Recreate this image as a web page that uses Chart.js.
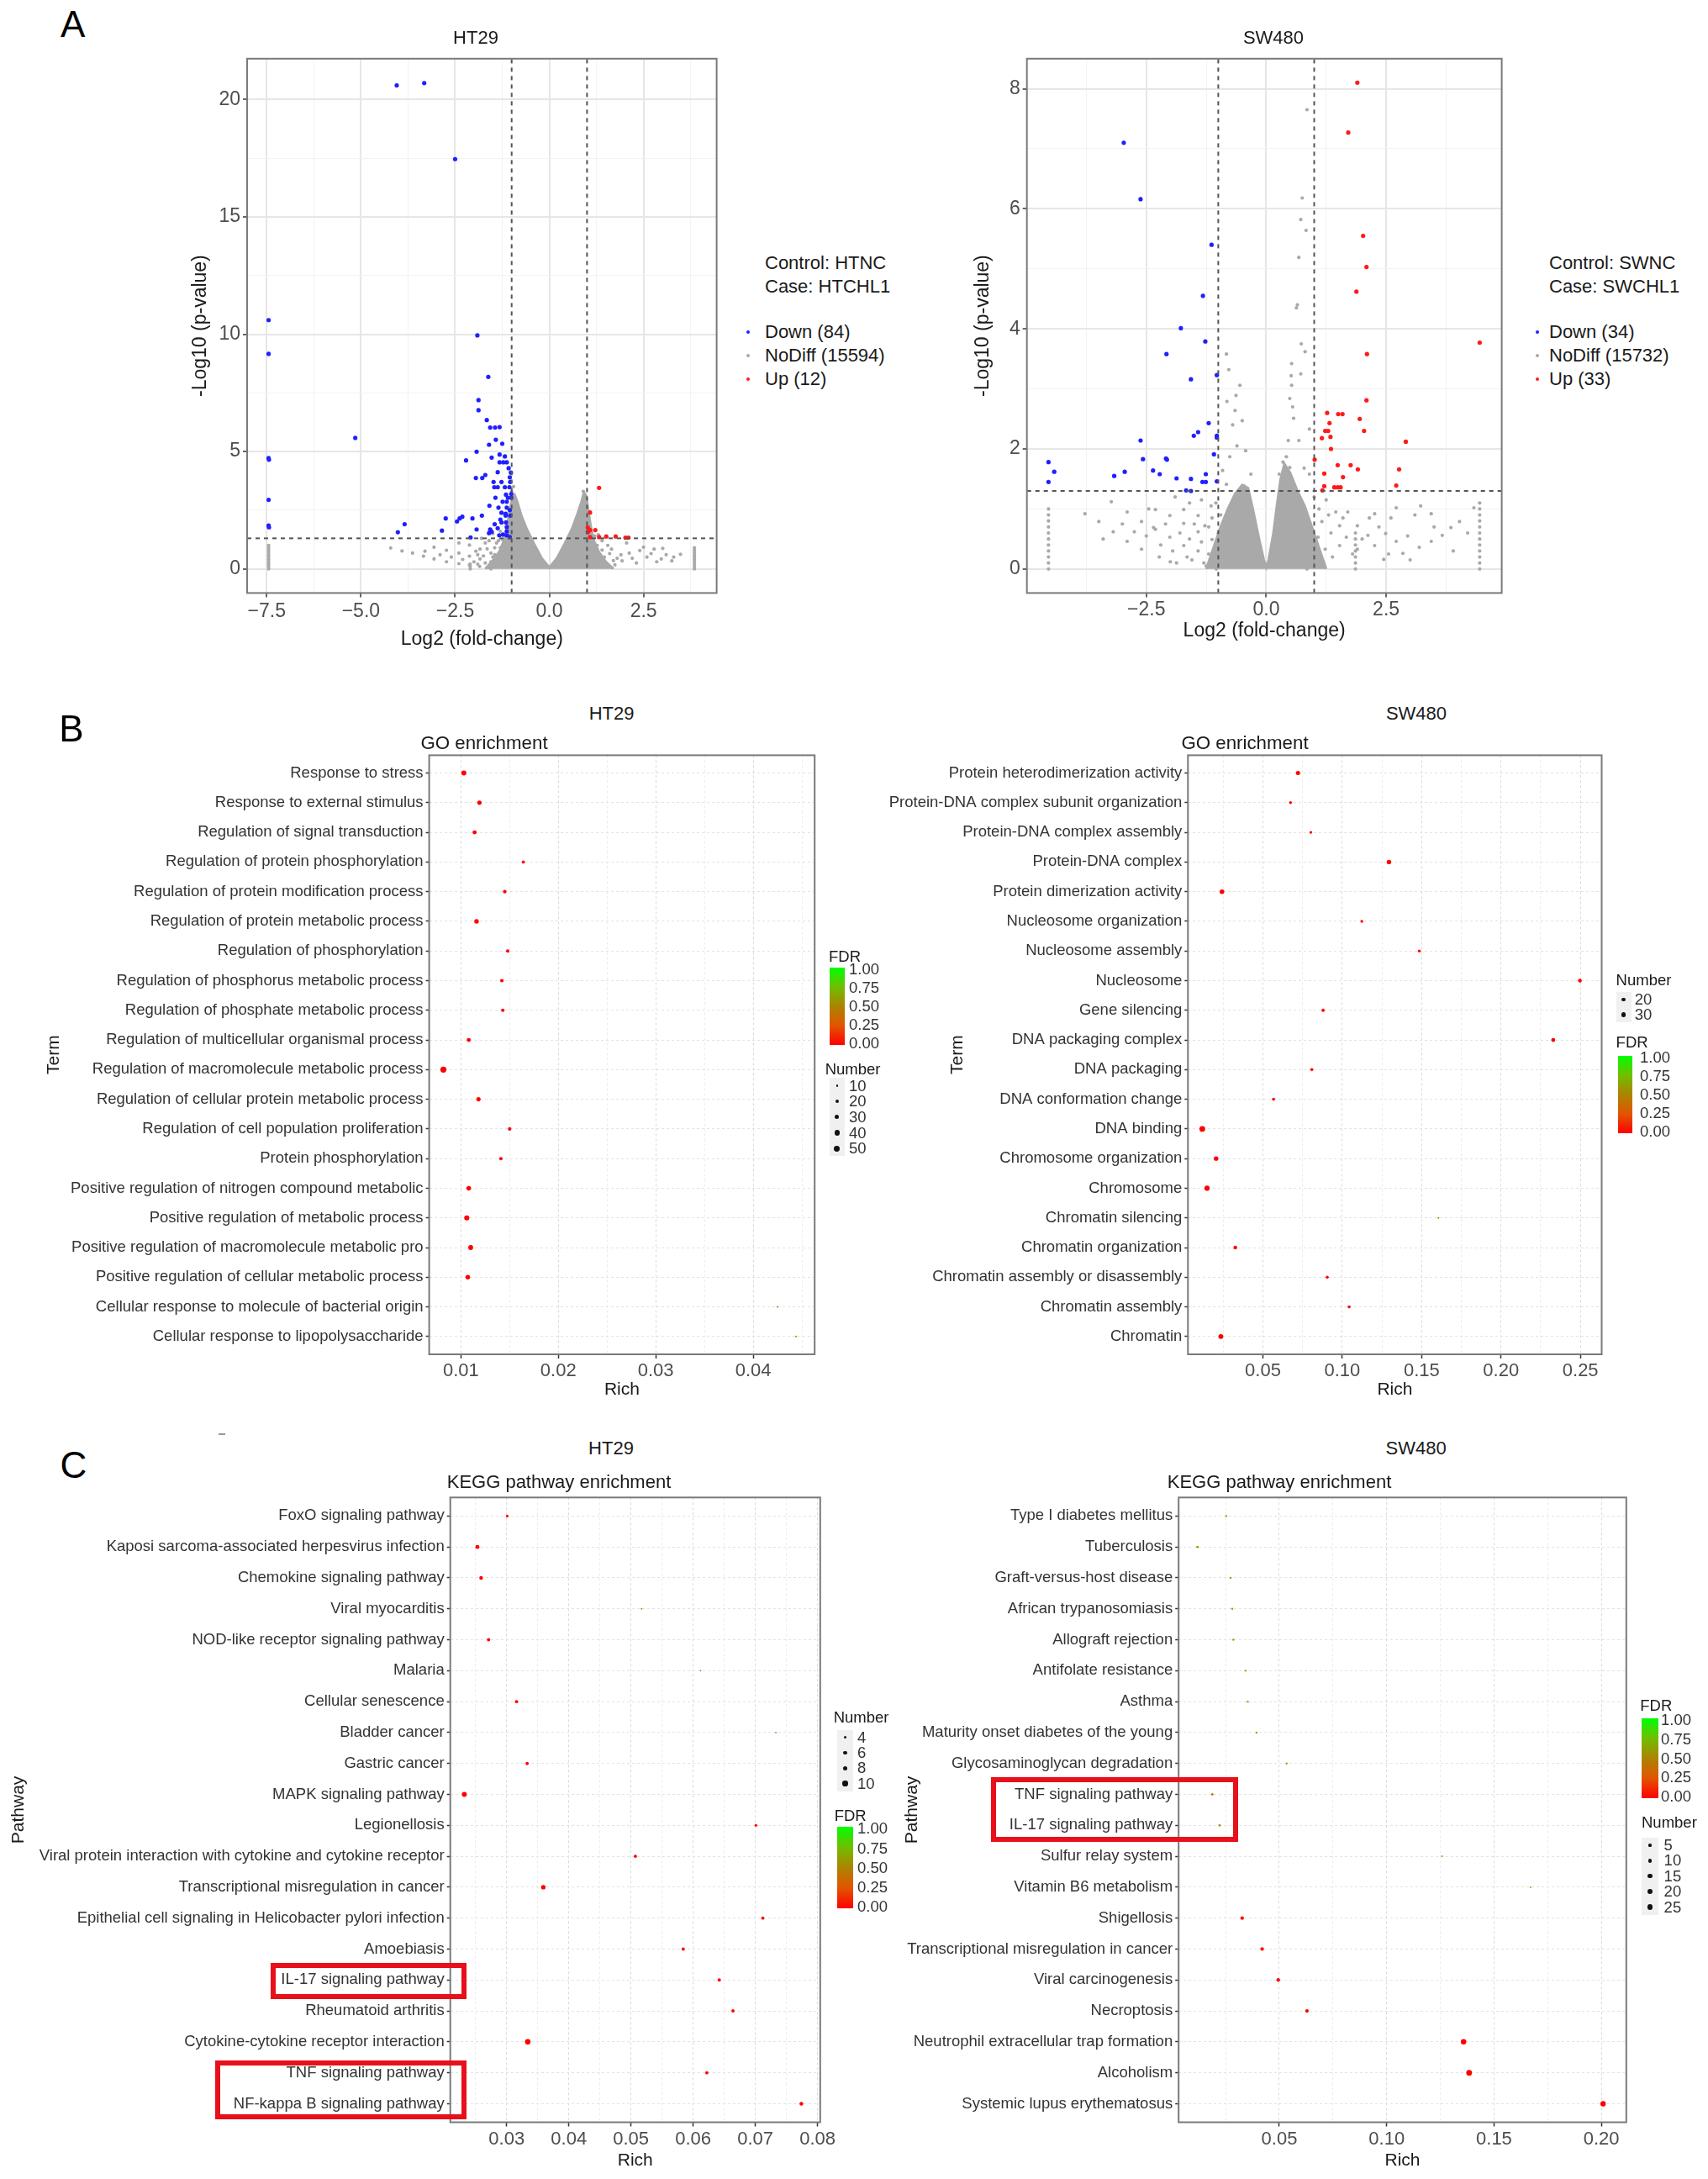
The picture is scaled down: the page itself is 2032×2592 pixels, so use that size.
<!DOCTYPE html>
<html>
<head>
<meta charset="utf-8">
<script src="https://cdn.jsdelivr.net/npm/chart.js@4.4.1/dist/chart.umd.min.js"></script>
<style>
  body { margin: 0; background: #fff; }
  #page { position: relative; width: 2032px; height: 2592px; background: #fff; overflow: hidden;
          font-family: "Liberation Sans", Arial, Helvetica, sans-serif; color: #1a1a1a; }
  canvas { position: absolute; }
  .t { position: absolute; white-space: nowrap; line-height: 1; }
</style>
</head>
<body>
<div id="page"></div>
<script>
// ---------- volcano data (log2 fold change, -log10 p) ----------
const fcCut = [-1, 1];
const pCut = 1.3;

const htXRange = [-8.02, 4.44];
const htYRange = [-1.03, 21.74];
const htXTicks = [-7.5, -5, -2.5, 0, 2.5];
const htXMinor = [-6.25, -3.75, -1.25, 1.25, 3.75];
const htYTicks = [0, 5, 10, 15, 20];
const htYMinor = [2.5, 7.5, 12.5, 17.5];

const htDown = [[-4.05,20.6],[-3.32,20.7],[-2.50,17.46],[-7.45,10.6],[-7.45,9.16],[-7.45,4.72],[-7.44,4.65],[-7.45,2.94],[-7.45,1.85],[-7.44,1.77],
  [-5.15,5.58],[-1.91,9.95],[-1.62,8.18],[-1.88,7.19],[-1.88,6.76],[-1.66,6.34],[-1.57,6.02],[-1.44,6.02],[-1.32,6.04],[-1.42,5.5],
  [-1.25,5.33],[-1.60,5.29],[-1.93,4.99],[-1.32,4.87],[-1.18,4.79],[-1.53,4.74],[-2.21,4.62],[-1.32,4.54],[-1.22,4.54],[-1.13,4.54],
  [-1.37,4.12],[-1.08,4.29],[-1.95,3.87],[-1.78,3.87],[-1.48,3.70],[-1.27,3.70],[-1.04,3.70],[-1.46,3.48],[-1.37,3.48],[-1.18,3.48],
  [-1.06,3.48],[-1.01,3.19],[-1.01,3.03],[-1.15,3.16],[-1.10,3.03],[-1.43,3.03],[-1.24,2.86],[-1.13,2.86],[-1.59,2.69],[-1.35,2.61],
  [-1.13,2.61],[-1.27,2.39],[-1.16,2.35],[-1.16,2.27],[-1.04,2.27],[-1.79,2.27],[-2.75,2.15],[-2.38,2.15],[-2.04,2.15],[-2.31,2.22],
  [-2.45,2.02],[-1.27,1.98],[-1.15,1.98],[-1.13,1.78],[-1.37,1.73],[-3.84,1.90],[-2.85,1.63],[-4.02,1.56],[-1.93,1.68],[-1.57,1.68],
  [-1.53,1.58],[-1.13,1.60],[-1.33,1.43],[-1.13,1.43],[-1.23,1.46],[-2.09,1.34],[-1.05,1.35],[-1.60,1.52],[-1.05,3.90],[-1.02,4.10],
  [-1.30,2.10],[-1.45,1.90],[-1.70,4.00],[-1.05,2.50]];
const htUp = [[1.32,3.45],[1.08,2.40],[1.02,1.76],[1.08,1.65],[1.22,1.65],[1.02,1.56],[1.08,1.35],[1.32,1.35],[1.51,1.38],[1.76,1.38],[2.02,1.33],[2.10,1.33]];
const htCore = [[-1.7,0],[-1.5,0.35],[-1.32,0.75],[-1.18,1.3],[-1.1,2.0],[-1.04,2.6],[-0.98,3.0],[-0.92,3.15],[-0.85,2.85],[-0.75,2.3],
  [-0.6,1.7],[-0.4,1.05],[-0.2,0.45],[0,0.05],[0.2,0.45],[0.4,1.05],[0.6,1.7],[0.75,2.35],[0.85,2.85],[0.92,3.25],[0.98,3.1],
  [1.03,2.5],[1.1,1.8],[1.18,1.2],[1.32,0.7],[1.5,0.3],[1.7,0]];
const htGray = [[-4.21,0.89],[-3.91,0.76],[-3.63,0.67],[-3.34,0.54],[-3.06,0.42],[-2.73,0.30],[-2.40,0.22],[-2.12,0.17],[-1.85,0.10],
  [-3.06,0.92],[-2.73,0.79],[-2.40,0.67],[-2.12,0.54],[-1.84,0.42],[-1.55,0.30],[-2.12,1.01],[-1.84,0.84],[-1.55,0.67],[-2.40,1.10],
  [-1.70,1.10],[-1.90,0.60],[-2.60,0.50],[-3.30,0.75],[-2.90,0.60],[-1.60,1.20],[-1.45,0.90],[-1.50,0.50],[-1.70,0.25],[-2.00,0.30],
  [-2.30,0.40],[-1.35,1.20],[-1.30,1.60],[-1.25,1.25],[-1.40,0.20],[-2.10,0.00],[-2.10,0.10],[-2.10,0.20],[-1.55,0.00],[-1.55,0.10],
  [-1.55,0.20],[-7.45,0.0],[-7.45,0.1],[-7.45,0.2],[-7.45,0.3],[-7.45,0.4],[-7.45,0.5],[-7.45,0.6],[-7.45,0.7],[-7.45,0.8],
  [-7.45,0.9],[-7.45,1.0],[3.85,0.0],[3.85,0.1],[3.85,0.2],[3.85,0.3],[3.85,0.4],[3.85,0.5],[3.85,0.6],[3.85,0.7],[3.85,0.8],
  [3.85,0.9],[1.65,0.84],[2.12,0.67],[2.50,0.92],[2.78,0.84],[3.01,0.87],[2.59,0.50],[2.97,0.42],[3.48,0.62],[3.25,0.34],
  [1.93,0.34],[2.31,0.25],[1.46,0.50],[1.27,1.00],[1.08,1.18],[1.74,0.17],[1.20,1.40],[1.10,1.60],[1.05,2.00],[1.00,2.50],
  [1.40,0.80],[1.55,1.00],[1.90,0.60],[2.20,0.45],[1.35,0.20],[1.80,0.45],[2.05,1.10],[0.96,2.70],[-1.00,3.30],[-0.95,3.50],
  [0.98,3.00],[0.90,3.30],[-1.95,0.75],[-1.75,0.55],[-1.65,0.85],[-1.45,0.60],[-1.35,0.45],[-1.30,0.90],[-1.80,1.30],[-1.50,1.50],
  [-1.40,1.10],[-1.90,0.20],[-1.25,0.15],[-1.60,0.05],[1.20,0.30],[1.35,0.60],[1.50,0.15],[1.60,0.65],[1.70,0.35],[1.25,0.75],
  [1.15,0.90],[1.40,1.20],[1.30,1.45],[2.40,0.78],[2.70,0.65],[3.10,0.60],[3.30,0.50],[2.85,0.30]];

const swXRange = [-4.99, 4.91];
const swYRange = [-0.40, 8.50];
const swXTicks = [-2.5, 0, 2.5];
const swXMinor = [-3.75, -1.25, 1.25, 3.75];
const swYTicks = [0, 2, 4, 6, 8];
const swYMinor = [1, 3, 5, 7];

const swDown = [[-2.97,7.10],[-2.62,6.16],[-1.14,5.40],[-1.32,4.55],[-1.78,4.01],[-1.27,3.79],[-2.08,3.58],[-1.03,3.23],[-1.57,3.16],
  [-1.20,2.43],[-1.42,2.28],[-1.51,2.22],[-2.62,2.14],[-1.03,2.22],[-1.03,2.19],[-1.09,1.91],[-2.57,1.83],[-2.09,1.84],[-2.07,1.82],
  [-4.54,1.78],[-4.42,1.62],[-2.95,1.62],[-3.17,1.55],[-2.36,1.64],[-2.22,1.58],[-1.87,1.51],[-1.57,1.50],[-1.26,1.58],[-4.54,1.45],
  [-1.33,1.45],[-1.26,1.45],[-1.03,1.46],[-1.67,1.31],[-1.57,1.30]];
const swUp = [[1.90,8.10],[1.71,7.27],[2.02,5.55],[2.09,5.03],[1.88,4.62],[4.45,3.77],[2.10,3.58],[2.09,2.81],[1.27,2.60],[1.50,2.58],
  [1.59,2.58],[1.95,2.50],[1.32,2.43],[1.23,2.30],[1.29,2.30],[2.04,2.30],[1.16,2.18],[1.34,2.20],[2.91,2.12],[1.35,2.00],
  [1.01,1.82],[1.76,1.73],[1.49,1.73],[1.91,1.66],[2.77,1.66],[1.21,1.59],[1.60,1.53],[1.21,1.38],[1.42,1.36],[1.49,1.36],
  [1.55,1.36],[2.71,1.39],[1.17,1.31]];
const swCore = [[-1.25,0],[-1.1,0.35],[-0.95,0.7],[-0.8,1.0],[-0.65,1.25],[-0.5,1.4],[-0.38,1.35],[-0.28,1.0],[-0.15,0.5],
  [-0.05,0.15],[0,0.03],[0.05,0.15],[0.15,0.6],[0.23,1.1],[0.3,1.5],[0.38,1.75],[0.5,1.6],[0.65,1.3],[0.8,1.05],[0.95,0.7],
  [1.1,0.35],[1.25,0]];
const swGray = [[-3.78,0.92],[-3.49,0.79],[-3.19,0.62],[-2.90,0.46],[-2.60,0.33],[-2.23,0.20],[-1.87,0.10],[-3.23,1.12],[-2.90,0.95],
  [-2.60,0.79],[-2.31,0.66],[-2.01,0.53],[-1.72,0.39],[-1.42,0.30],[-2.31,0.99],[-2.01,0.89],[-1.72,0.76],[-1.42,0.62],[-1.13,0.49],
  [-1.72,0.99],[-1.42,0.89],[-1.28,0.72],[-1.13,0.85],[-2.35,0.69],[-1.20,0.25],[-1.00,0.60],[-0.95,0.90],[-1.05,1.10],[-1.55,0.15],
  [-1.30,0.10],[-4.54,0.0],[-4.54,0.1],[-4.54,0.2],[-4.54,0.3],[-4.54,0.4],[-4.54,0.5],[-4.54,0.6],[-4.54,0.7],[-4.54,0.8],
  [-4.54,0.9],[-4.54,1.0],[4.45,0.0],[4.45,0.1],[4.45,0.2],[4.45,0.3],[4.45,0.4],[4.45,0.5],[4.45,0.6],[4.45,0.7],[4.45,0.8],
  [4.45,0.9],[4.45,1.0],[4.45,1.1],[1.86,0.0],[1.86,0.1],[1.86,0.2],[1.86,0.3],[1.86,0.4],[1.86,0.5],[1.86,0.6],[-1.04,0.0],
  [-1.04,0.1],[-1.04,0.2],[-1.04,0.3],[0.85,0.0],[0.85,0.1],[0.85,0.2],[1.16,0.79],[1.53,0.72],[1.90,0.72],[2.26,0.92],[2.71,1.02],
  [3.22,1.05],[3.44,0.92],[3.67,0.56],[3.85,0.69],[4.03,0.79],[4.33,1.02],[1.53,0.39],[1.90,0.33],[2.26,0.39],[2.45,0.16],[2.71,0.46],
  [2.85,0.26],[3.19,0.36],[3.44,0.46],[2.12,0.56],[2.49,0.59],[1.67,0.53],[1.23,0.33],[1.38,0.20],[1.08,0.53],[1.10,1.00],[1.30,0.90],
  [1.60,0.85],[1.00,1.20],[0.85,7.65],[0.75,6.18],[0.72,5.82],[0.83,5.64],[0.68,5.19],[0.63,4.35],[0.65,4.40],[0.73,3.75],[0.81,3.62],
  [0.53,3.42],[0.52,3.22],[0.72,3.25],[0.53,3.06],[-0.83,3.58],[-0.78,3.32],[-0.55,3.06],[-0.63,2.89],[-0.65,2.64],[-0.82,2.79],
  [-0.50,2.47],[-0.70,2.40],[0.49,2.84],[0.55,2.70],[0.57,2.51],[0.90,2.33],[0.46,2.14],[0.68,2.14],[-0.61,2.05],[-0.43,1.97],
  [-0.76,1.87],[0.42,1.87],[0.35,1.78],[0.49,1.69],[0.79,1.68],[-0.91,1.64],[-0.32,1.58],[0.27,1.58],[0.90,1.58],[-0.83,1.41],
  [-0.46,1.38],[0.46,1.38],[-2.20,0.40],[-1.95,0.30],[-1.80,0.60],[-1.60,0.50],[-1.50,0.75],[-1.35,0.45],[-1.20,0.70],[-1.15,1.05],
  [-1.35,1.15],[-1.60,1.10],[-1.90,1.20],[-2.10,0.75],[-2.50,0.55],[-2.75,0.62],[-3.00,0.75],[-3.40,0.50],[-2.45,1.00],[-1.25,0.05],
  [-1.65,0.20],[-2.00,0.12],[1.35,0.60],[1.45,0.95],[1.70,0.95],[1.80,0.25],[2.00,0.50],[2.15,0.85],[2.35,0.70],[2.60,0.85],
  [2.95,0.55],[3.10,0.90],[3.50,0.70],[3.90,0.30],[4.20,0.60],[1.25,1.15],[1.15,0.15],[2.55,0.25],[3.00,0.15]];

const htLegend = ['Control: HTNC', 'Case: HTCHL1', 'Down (84)', 'NoDiff (15594)', 'Up (12)'];
const swLegend = ['Control: SWNC', 'Case: SWCHL1', 'Down (34)', 'NoDiff (15732)', 'Up (33)'];

// ---------- GO enrichment ----------
const goHtTerm = ['Response to stress','Response to external stimulus','Regulation of signal transduction','Regulation of protein phosphorylation',
  'Regulation of protein modification process','Regulation of protein metabolic process','Regulation of phosphorylation',
  'Regulation of phosphorus metabolic process','Regulation of phosphate metabolic process','Regulation of multicellular organismal process',
  'Regulation of macromolecule metabolic process','Regulation of cellular protein metabolic process','Regulation of cell population proliferation',
  'Protein phosphorylation','Positive regulation of nitrogen compound metabolic','Positive regulation of metabolic process',
  'Positive regulation of macromolecule metabolic pro','Positive regulation of cellular metabolic process',
  'Cellular response to molecule of bacterial origin','Cellular response to lipopolysaccharide'];
const goHtRich = [0.0103,0.0119,0.0114,0.0164,0.0145,0.0116,0.0148,0.0142,0.0143,0.0108,0.0082,0.0118,0.0150,0.0141,0.0108,0.0106,0.0110,0.0107,0.0425,0.0444];
const goHtNum = [38,30,28,18,22,32,20,21,21,27,53,29,21,20,33,40,36,33,7,7];
const goHtFdr = [0,0,0,0.01,0.01,0,0.01,0.01,0.01,0.01,0,0.01,0.01,0.01,0,0,0,0,0.4,0.45];
const goHtXRange = [0.00674, 0.04631];
const goHtXTicks = [0.01, 0.02, 0.03, 0.04];
const goHtXMinor = [0.015, 0.025, 0.035, 0.045];
const goHtBreaks = [10, 20, 30, 40, 50];

const goSwTerm = ['Protein heterodimerization activity','Protein-DNA complex subunit organization','Protein-DNA complex assembly',
  'Protein-DNA complex','Protein dimerization activity','Nucleosome organization','Nucleosome assembly','Nucleosome','Gene silencing',
  'DNA packaging complex','DNA packaging','DNA conformation change','DNA binding','Chromosome organization','Chromosome',
  'Chromatin silencing','Chromatin organization','Chromatin assembly or disassembly','Chromatin assembly','Chromatin'];
const goSwRich = [0.0721,0.0674,0.0802,0.1294,0.0242,0.1123,0.1485,0.2497,0.0879,0.2329,0.0808,0.0567,0.0118,0.0205,0.0148,0.1606,0.0326,0.0905,0.1043,0.0235];
const goSwNum = [25,17,17,27,28,17,17,22,19,24,18,18,36,27,32,11,22,18,18,30];
const goSwFdr = [0,0,0,0,0,0,0,0,0,0,0,0.01,0,0,0,0.5,0,0,0,0];
const goSwXRange = [0.00277, 0.2634];
const goSwXTicks = [0.05, 0.10, 0.15, 0.20, 0.25];
const goSwXMinor = [0.025, 0.075, 0.125, 0.175, 0.225];
const goSwBreaks = [20, 30];

// ---------- KEGG enrichment ----------
const keggHtPath = ['FoxO signaling pathway','Kaposi sarcoma-associated herpesvirus infection','Chemokine signaling pathway','Viral myocarditis',
  'NOD-like receptor signaling pathway','Malaria','Cellular senescence','Bladder cancer','Gastric cancer','MAPK signaling pathway','Legionellosis',
  'Viral protein interaction with cytokine and cytokine receptor','Transcriptional misregulation in cancer',
  'Epithelial cell signaling in Helicobacter pylori infection','Amoebiasis','IL-17 signaling pathway','Rheumatoid arthritis',
  'Cytokine-cytokine receptor interaction','TNF signaling pathway','NF-kappa B signaling pathway'];
const keggHtRich = [0.0301,0.0253,0.0259,0.0517,0.0271,0.0612,0.0316,0.0733,0.0333,0.0232,0.0701,0.0507,0.0359,0.0712,0.0584,0.0642,0.0664,0.0334,0.0622,0.0774];
const keggHtNum = [4,7,6,2,5,2,5,2,5,9,4,5,8,5,5,5,5,11,5,6];
const keggHtFdr = [0.02,0.01,0.01,0.45,0.01,0.45,0.01,0.5,0.01,0,0.03,0.01,0,0.02,0.01,0.01,0.01,0,0.01,0];
const keggHtXRange = [0.02094, 0.08043];
const keggHtXTicks = [0.03, 0.04, 0.05, 0.06, 0.07, 0.08];
const keggHtXMinor = [0.025, 0.035, 0.045, 0.055, 0.065, 0.075];
const keggHtBreaks = [4, 6, 8, 10];

const keggSwPath = ['Type I diabetes mellitus','Tuberculosis','Graft-versus-host disease','African trypanosomiasis','Allograft rejection',
  'Antifolate resistance','Asthma','Maturity onset diabetes of the young','Glycosaminoglycan degradation','TNF signaling pathway',
  'IL-17 signaling pathway','Sulfur relay system','Vitamin B6 metabolism','Shigellosis','Transcriptional misregulation in cancer',
  'Viral carcinogenesis','Necroptosis','Neutrophil extracellular trap formation','Alcoholism','Systemic lupus erythematosus'];
const keggSwRich = [0.0253,0.0119,0.0273,0.0281,0.0286,0.0343,0.0353,0.0394,0.0534,0.0188,0.0222,0.1258,0.1670,0.0327,0.0420,0.0495,0.0629,0.1358,0.1384,0.2008];
const keggSwNum = [3,4,3,3,3,3,3,3,3,4,4,2,2,10,10,10,10,24,26,23];
const keggSwFdr = [0.7,0.65,0.7,0.7,0.7,0.72,0.72,0.72,0.75,0.5,0.55,0.75,0.78,0.01,0.01,0.01,0.01,0,0,0];
const keggSwXRange = [0.00311, 0.2116];
const keggSwXTicks = [0.05, 0.10, 0.15, 0.20];
const keggSwXMinor = [0.025, 0.075, 0.125, 0.175];
const keggSwBreaks = [5, 10, 15, 20, 25];

const fdrBreaks = [1, 0.75, 0.5, 0.25, 0];

// ---------- helpers ----------
const FONT = '"Liberation Sans", Arial, Helvetica, sans-serif';
const page = document.getElementById('page');

function addText(txt, x, y, size, o = {}) {
  const d = document.createElement('div');
  d.className = 't';
  d.textContent = txt;
  d.style.left = x + 'px';
  d.style.top = y + 'px';
  d.style.fontSize = size + 'px';
  d.style.color = o.color || '#1a1a1a';
  d.style.transform = o.left ? 'translate(0,-50%)' : 'translate(-50%,-50%)';
  page.appendChild(d);
}

function addRect(x, y, w, h, css) {
  const d = document.createElement('div');
  d.style.position = 'absolute';
  d.style.left = x + 'px';
  d.style.top = y + 'px';
  d.style.width = w + 'px';
  d.style.height = h + 'px';
  d.style.boxSizing = 'border-box';
  Object.assign(d.style, css);
  page.appendChild(d);
}

function addDot(cx, cy, r, color) {
  addRect(cx - r, cy - r, 2 * r, 2 * r, { background: color, borderRadius: '50%' });
}

// canvas placed so that the plot panel lands on box; y title kept at yTitleX
function makeCanvas(box, yTitleX, xTitleY, titlePx, canvasLeft) {
  const lh = titlePx * 1.2;
  const left = canvasLeft !== undefined ? canvasLeft : Math.round(yTitleX - lh / 2);
  const top = Math.round(box.t - 14);
  const right = Math.round(box.r + 32);
  const bottom = Math.round(xTitleY + lh / 2);
  const c = document.createElement('canvas');
  c.width = right - left;
  c.height = bottom - top;
  c.style.left = left + 'px';
  c.style.top = top + 'px';
  page.appendChild(c);
  return { c, yW: box.l - left, xH: bottom - box.b, padT: box.t - top, padR: right - box.r,
           tPad: yTitleX - lh / 2 - left };
}

const frame = {
  id: 'frame',
  afterDraw(chart, args, o) {
    const a = chart.chartArea, ctx = chart.ctx;
    ctx.save();
    ctx.strokeStyle = o.color || '#7f7f7f';
    ctx.lineWidth = o.width || 2;
    ctx.strokeRect(a.left, a.top, a.right - a.left, a.bottom - a.top);
    ctx.restore();
  }
};

function linAxis(geo, range, major, minor, fmt, o) {
  const isMajor = v => major.indexOf(v) >= 0;
  return {
    type: 'linear', min: range[0], max: range[1],
    afterBuildTicks: ax => { ax.ticks = major.concat(minor).map(v => ({ value: v })); },
    afterFit: ax => { if (o.horizontal) ax.height = geo.xH; else ax.width = geo.yW; },
    ticks: { autoSkip: false, maxRotation: 0, padding: o.pad, color: '#4d4d4d',
             font: { family: FONT, size: o.tickPx }, callback: v => isMajor(v) ? fmt(v) : '' },
    grid: { color: ctx => (ctx.tick && isMajor(ctx.tick.value)) ? o.major : o.minor,
            lineWidth: ctx => (ctx.tick && isMajor(ctx.tick.value)) ? o.majorW : 1,
            tickColor: ctx => (ctx.tick && isMajor(ctx.tick.value)) ? '#333' : 'rgba(0,0,0,0)',
            tickLength: 5, tickWidth: 1.5 },
    border: { display: false, dash: o.dash || [] },
    title: { display: true, text: o.title, color: '#1a1a1a', font: { family: FONT, size: o.titlePx },
             padding: o.horizontal ? 0 : { top: geo.tPad, bottom: 0 } }
  };
}

function catAxis(geo, labels, o) {
  return {
    type: 'linear', reverse: true, min: -0.6, max: labels.length - 0.4,
    afterBuildTicks: ax => { ax.ticks = labels.map((l, i) => ({ value: i })); },
    afterFit: ax => { ax.width = geo.yW; },
    ticks: { autoSkip: false, padding: o.pad, color: '#333', font: { family: FONT, size: 18.5 }, callback: v => labels[v] },
    grid: { color: '#e3e3e3', lineWidth: 1, tickColor: '#333', tickLength: 4, tickWidth: 1.5 },
    border: { display: false, dash: [3, 3] },
    title: { display: true, text: o.title, color: '#1a1a1a', font: { family: FONT, size: 21 },
             padding: { top: geo.tPad, bottom: 0 } }
  };
}

function baseOptions(geo, scales) {
  return {
    responsive: false, animation: false, devicePixelRatio: 1,
    layout: { padding: { left: 0, right: geo.padR, top: geo.padT, bottom: 0 } },
    plugins: { legend: { display: false }, tooltip: { enabled: false }, frame: { color: '#7a7a7a', width: 2 } },
    scales
  };
}

const fmtFc = v => v === 0 ? '0.0' : (v < 0 ? '\u2212' : '') + Math.abs(v).toFixed(1);
const fmtInt = v => String(v);
const fmt2 = v => v.toFixed(2);

function volcano(geo, d) {
  const pts = a => a.map(p => ({ x: p[0], y: p[1] }));
  const vline = x => [{ x: x, y: d.yRange[0] }, { x: x, y: d.yRange[1] }];
  const cut = { showLine: true, borderColor: '#555', borderWidth: 2, borderDash: [5, 5], pointRadius: 0 };
  new Chart(geo.c, {
    type: 'scatter',
    data: { datasets: [
      Object.assign({ data: vline(fcCut[0]) }, cut),
      Object.assign({ data: vline(fcCut[1]) }, cut),
      Object.assign({ data: [{ x: d.xRange[0], y: pCut }, { x: d.xRange[1], y: pCut }] }, cut),
      { data: pts(d.up), pointRadius: 2.6, pointBackgroundColor: '#ff1a1a', pointBorderWidth: 0 },
      { data: pts(d.down), pointRadius: 2.6, pointBackgroundColor: '#2020ff', pointBorderWidth: 0 },
      { data: pts(d.gray), pointRadius: 2.1, pointBackgroundColor: '#a9a9a9', pointBorderWidth: 0 },
      { data: pts(d.core), showLine: true, fill: 'origin', backgroundColor: '#a9a9a9', borderColor: '#a9a9a9',
        borderWidth: 3, pointRadius: 0 }
    ]},
    options: baseOptions(geo, {
      x: linAxis(geo, d.xRange, d.xTicks, d.xMinor, fmtFc,
        { horizontal: true, pad: d.xPad, tickPx: 23, titlePx: 23, title: 'Log2 (fold-change)', major: '#e6e6e6', minor: '#f3f3f3', majorW: 2 }),
      y: linAxis(geo, d.yRange, d.yTicks, d.yMinor, fmtInt,
        { pad: 3, tickPx: 23, titlePx: 23, title: '-Log10 (p-value)', major: '#e6e6e6', minor: '#f3f3f3', majorW: 2 })
    }),
    plugins: [frame]
  });
}

const fdrStops = [[0, [255, 0, 0]], [0.25, [225, 85, 0]], [0.5, [172, 132, 0]], [0.75, [112, 190, 0]], [1, [0, 255, 0]]];
function fdrColor(v) {
  for (let i = 1; i < fdrStops.length; i++) {
    if (v <= fdrStops[i][0]) {
      const [a0, c0] = fdrStops[i - 1], [a1, c1] = fdrStops[i];
      const t = (v - a0) / (a1 - a0);
      return 'rgb(' + c0.map((c, k) => Math.round(c + (c1[k] - c) * t)).join(',') + ')';
    }
  }
  return 'rgb(0,255,0)';
}

function dotPlot(geo, d) {
  const nMin = Math.min(...d.num), nMax = Math.max(...d.num);
  const rad = n => d.rRange[0] + (d.rRange[1] - d.rRange[0]) *
    (Math.sqrt(n) - Math.sqrt(nMin)) / (Math.sqrt(nMax) - Math.sqrt(nMin));
  new Chart(geo.c, {
    type: 'scatter',
    data: { datasets: [{
      data: d.rich.map((v, i) => ({ x: v, y: i })),
      pointRadius: ctx => rad(d.num[ctx.dataIndex]),
      pointBackgroundColor: ctx => fdrColor(d.fdr[ctx.dataIndex]),
      pointBorderWidth: 0
    }]},
    options: baseOptions(geo, {
      x: linAxis(geo, d.xRange, d.xTicks, d.xMinor, fmt2,
        { horizontal: true, pad: 2, tickPx: 22, titlePx: 21, title: 'Rich', major: '#dadada', minor: '#ececec', majorW: 1, dash: [3, 3] }),
      y: catAxis(geo, d.labels, { pad: 3, title: d.yTitle })
    }),
    plugins: [frame]
  });
  return rad;
}

function fdrLegend(tx, ty, bx, by, bw, bh, lx) {
  addText('FDR', tx, ty, 18.5, { left: true });
  addRect(bx, by, bw, bh, { background: 'linear-gradient(to top, ' + fdrStops.map(s => fdrColor(s[0]) + ' ' + (s[0] * 100) + '%').join(', ') + ')' });
  fdrBreaks.forEach((v, i) => addText(v.toFixed(2), lx, by + 2 + i * (bh - 4) / 4, 18.5, { left: true, color: '#333' }));
}

function numLegend(tx, ty, kx, kw, y0, step, breaks, rad, lx) {
  addText('Number', tx, ty, 18.5, { left: true });
  addRect(kx, y0 - step / 2, kw, step * breaks.length, { background: '#f0f0f0' });
  breaks.forEach((n, i) => {
    addDot(kx + kw / 2, y0 + i * step, rad(n), '#111');
    addText(String(n), lx, y0 + i * step, 18.5, { left: true, color: '#333' });
  });
}

function volcLegend(lines, tx, mx) {
  const ys = [313, 341, 395, 423, 451];
  const cols = ['#2020ff', '#a9a9a9', '#ff1a1a'];
  lines.forEach((s, i) => addText(s, tx, ys[i], 22, { left: true }));
  cols.forEach((c, i) => addDot(mx, ys[i + 2], 2.3, c));
}

// ---------- panel A ----------
volcano(makeCanvas({ l: 294, r: 852.6, t: 66.9, b: 705.4 }, 239, 760, 23),
  { xRange: htXRange, yRange: htYRange, xTicks: htXTicks, xMinor: htXMinor, yTicks: htYTicks, yMinor: htYMinor,
    down: htDown, up: htUp, gray: htGray, core: htCore, xPad: 3 });
volcano(makeCanvas({ l: 1221.7, r: 1786.6, t: 66.9, b: 705.4 }, 1170, 750, 23),
  { xRange: swXRange, yRange: swYRange, xTicks: swXTicks, xMinor: swXMinor, yTicks: swYTicks, yMinor: swYMinor,
    down: swDown, up: swUp, gray: swGray, core: swCore, xPad: 1 });
volcLegend(htLegend, 910, 890);
volcLegend(swLegend, 1843, 1829);
addText('A', 86.7, 29, 44, { color: '#000' });
addText('HT29', 566, 45, 22);
addText('SW480', 1515, 45, 22);

// ---------- panel B ----------
const rGoHt = dotPlot(makeCanvas({ l: 510.6, r: 969.2, t: 898.4, b: 1611 }, 64, 1653.8, 21, 20),
  { labels: goHtTerm, rich: goHtRich, num: goHtNum, fdr: goHtFdr, xRange: goHtXRange, xTicks: goHtXTicks, xMinor: goHtXMinor,
    rRange: [1.0, 3.6], yTitle: 'Term' });
const rGoSw = dotPlot(makeCanvas({ l: 1413.3, r: 1905.5, t: 898.4, b: 1611 }, 1139, 1653.8, 21, 1030),
  { labels: goSwTerm, rich: goSwRich, num: goSwNum, fdr: goSwFdr, xRange: goSwXRange, xTicks: goSwXTicks, xMinor: goSwXMinor,
    rRange: [1.0, 3.4], yTitle: 'Term' });
addText('B', 85, 866.6, 44, { color: '#000' });
addText('HT29', 727.6, 849, 22);
addText('GO enrichment', 576, 884, 22.3);
addText('SW480', 1685, 849, 22);
addText('GO enrichment', 1481, 884, 22.3);
fdrLegend(986, 1138.3, 986.7, 1150.7, 18.3, 92, 1010);
numLegend(981.7, 1271.7, 986.7, 18.3, 1291.7, 18.6, goHtBreaks, rGoHt, 1010);
numLegend(1922.6, 1165.6, 1922.5, 18, 1188.6, 18.1, goSwBreaks, rGoSw, 1944.7);
fdrLegend(1922.6, 1239.6, 1924.5, 1256, 17, 92, 1951);

// ---------- panel C ----------
const rKeggHt = dotPlot(makeCanvas({ l: 535.7, r: 975.8, t: 1781.3, b: 2524.5 }, 22.3, 2570, 21, 4),
  { labels: keggHtPath, rich: keggHtRich, num: keggHtNum, fdr: keggHtFdr, xRange: keggHtXRange, xTicks: keggHtXTicks, xMinor: keggHtXMinor,
    rRange: [0.9, 3.3], yTitle: 'Pathway' });
const rKeggSw = dotPlot(makeCanvas({ l: 1402.2, r: 1934.8, t: 1781.3, b: 2524.5 }, 1085.6, 2570, 21, 1040),
  { labels: keggSwPath, rich: keggSwRich, num: keggSwNum, fdr: keggSwFdr, xRange: keggSwXRange, xTicks: keggSwXTicks, xMinor: keggSwXMinor,
    rRange: [1.0, 3.4], yTitle: 'Pathway' });
addText('C', 87.4, 1742.7, 44, { color: '#000' });
addText('HT29', 727, 1722.8, 22);
addText('KEGG pathway enrichment', 665, 1762.6, 22);
addText('SW480', 1684.6, 1722.8, 22);
addText('KEGG pathway enrichment', 1522, 1762.6, 22);
numLegend(991.7, 2043.3, 996, 19, 2066.7, 18.3, keggHtBreaks, rKeggHt, 1020);
fdrLegend(992.7, 2160, 996, 2173.3, 19, 97, 1020);
fdrLegend(1951.3, 2028.8, 1953, 2044, 20, 95, 1976);
numLegend(1953, 2168, 1953, 20, 2195, 18.45, keggSwBreaks, rKeggSw, 1979.6);

// highlight boxes
addRect(322, 2335, 233, 43, { border: '6px solid #e8101a' });
addRect(256, 2451, 299, 70, { border: '6px solid #e8101a' });
addRect(1179, 2114, 294, 77, { border: '6px solid #e8101a' });
addRect(260, 1705, 8, 2, { background: '#999' });
</script>
</body>
</html>
